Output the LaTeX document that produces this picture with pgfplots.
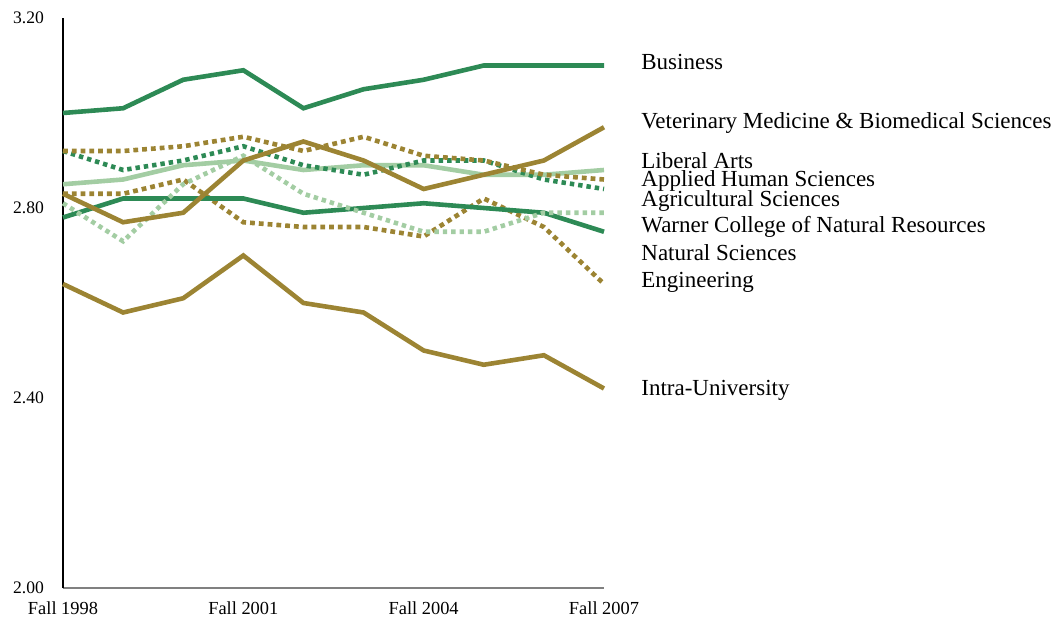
\documentclass[border=0pt]{standalone}
\usepackage{fontspec}
\setmainfont{Liberation Serif}
\usepackage{pgfplots}
\pgfplotsset{compat=1.18}

\definecolor{dkgreen}{RGB}{45,138,85}
\definecolor{gold}{RGB}{156,132,51}
\definecolor{ltgreen}{RGB}{163,205,163}

\begin{document}
\begin{tikzpicture}
\begin{axis}[
    name=ax,
    scale only axis,
    width=270.5pt, height=285pt,
    xmin=0, xmax=9, ymin=2, ymax=3.2,
    axis x line*=bottom, axis y line*=left,
    x axis line style={gray, line width=0.6pt, -},
    y axis line style={black, line width=0.6pt, -},
    xtick={0,3,6,9},
    xticklabels={Fall 1998, Fall 2001, Fall 2004, Fall 2007},
    ytick={2,2.4,2.8,3.2},
    yticklabel style={
        /pgf/number format/fixed,
        /pgf/number format/fixed zerofill,
        /pgf/number format/precision=2,
        /pgf/number format/assume math mode=true,
        font=\fontsize{8.8}{10}\selectfont,
        xshift=-6pt},
    xticklabel style={font=\fontsize{9.2}{10}\selectfont, yshift=-3.5pt},
    tick style={draw=none},
    clip=false,
    every axis plot/.append style={line width=2.3pt, line join=miter},
]
% Intra-University
\addplot[gold] coordinates {(0,2.64)(1,2.58)(2,2.61)(3,2.70)(4,2.60)(5,2.58)(6,2.50)(7,2.47)(8,2.49)(9,2.42)};
% Engineering
\addplot[gold, dash pattern=on 2.4pt off 2pt] coordinates {(0,2.83)(1,2.83)(2,2.86)(3,2.77)(4,2.76)(5,2.76)(6,2.74)(7,2.82)(8,2.76)(9,2.64)};
% Natural Sciences
\addplot[dkgreen] coordinates {(0,2.78)(1,2.82)(2,2.82)(3,2.82)(4,2.79)(5,2.80)(6,2.81)(7,2.80)(8,2.79)(9,2.75)};
% Warner College of Natural Resources
\addplot[ltgreen, dash pattern=on 2.2pt off 2pt] coordinates {(0,2.81)(1,2.73)(2,2.85)(3,2.91)(4,2.83)(5,2.79)(6,2.75)(7,2.75)(8,2.79)(9,2.79)};
% Liberal Arts
\addplot[ltgreen] coordinates {(0,2.85)(1,2.86)(2,2.89)(3,2.90)(4,2.88)(5,2.89)(6,2.89)(7,2.87)(8,2.87)(9,2.88)};
% Agricultural Sciences
\addplot[dkgreen, dash pattern=on 2.2pt off 2pt] coordinates {(0,2.92)(1,2.88)(2,2.90)(3,2.93)(4,2.89)(5,2.87)(6,2.90)(7,2.90)(8,2.86)(9,2.84)};
% Applied Human Sciences
\addplot[gold, dash pattern=on 2.4pt off 2pt] coordinates {(0,2.92)(1,2.92)(2,2.93)(3,2.95)(4,2.92)(5,2.95)(6,2.91)(7,2.90)(8,2.87)(9,2.86)};
% Veterinary Medicine & Biomedical Sciences
\addplot[gold] coordinates {(0,2.83)(1,2.77)(2,2.79)(3,2.90)(4,2.94)(5,2.90)(6,2.84)(7,2.87)(8,2.90)(9,2.97)};
% Business
\addplot[dkgreen] coordinates {(0,3.00)(1,3.01)(2,3.07)(3,3.09)(4,3.01)(5,3.05)(6,3.07)(7,3.10)(8,3.10)(9,3.10)};

\begin{scope}[every node/.style={anchor=west, xshift=18.5pt, inner sep=0pt, font=\fontsize{11.5}{12}\selectfont}]
\node at (axis cs:9,3.107) {Business};
\node at (axis cs:9,2.979) {Veterinary Medicine \& Biomedical Sciences};
\node at (axis cs:9,2.899) {Liberal Arts};
\node at (axis cs:9,2.857) {Applied Human Sciences};
\node at (axis cs:9,2.815) {Agricultural Sciences};
\node at (axis cs:9,2.760) {Warner College of Natural Resources};
\node at (axis cs:9,2.707) {Natural Sciences};
\node at (axis cs:9,2.644) {Engineering};
\node at (axis cs:9,2.417) {Intra-University};
\end{scope}
\end{axis}
\pgfresetboundingbox
\path[use as bounding box] ([shift={(-31.5pt,-15pt)}]ax.south west) rectangle ([shift={(495.5pt,294pt)}]ax.south west);
\end{tikzpicture}
\end{document}
